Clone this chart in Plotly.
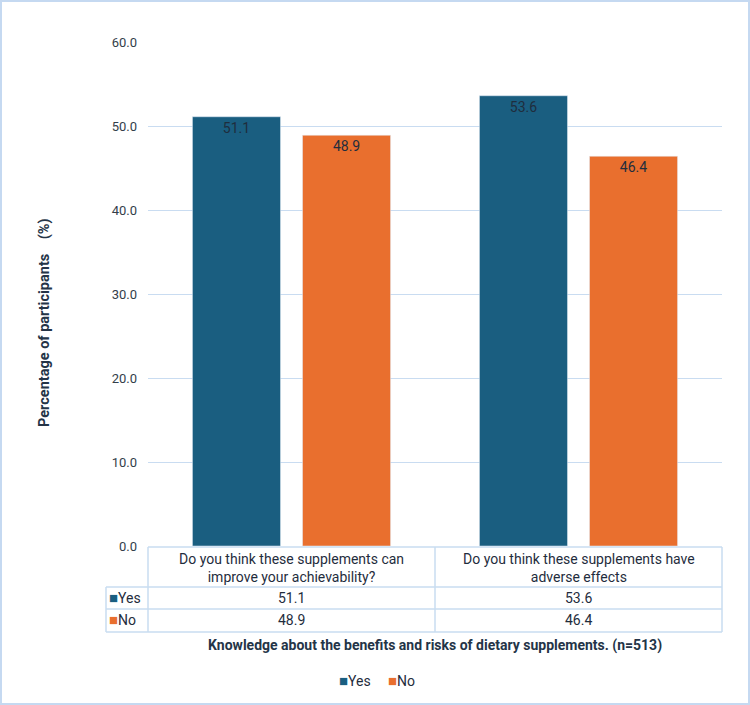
import plotly.graph_objects as go

categories = ["Do you think these supplements can<br>improve your achievability?",
              "Do you think these supplements have<br>adverse effects"]
series_names = ["Yes", "No"]
yes_values = [51.1, 53.6]
no_values = [48.9, 46.4]
y_ticks = [0, 10, 20, 30, 40, 50, 60]
x_title = "Knowledge about the benefits and risks of dietary supplements. (n=513)"
y_title = "Percentage of participants&nbsp;&nbsp;&nbsp;&nbsp;(%)"

BLUE = "#1a5e80"
ORANGE = "#e96f2e"
TEXT = "#1f2d3d"
GRID = "#c9dcf1"
FONT = "Roboto"

W, H = 750, 705
L, R, T, B = 148, 28, 42, 159
PW, PH = W - L - R, H - T - B

def px(x):
    return (x - L) / PW

def py(y):
    return (H - B - y) / PH

xs = [0, 1]
fig = go.Figure()
for name, vals, col in [(series_names[0], yes_values, BLUE), (series_names[1], no_values, ORANGE)]:
    fig.add_trace(go.Bar(x=xs, y=vals, name=name, marker_color=col,
                         text=[f"{v:.1f}" for v in vals], textposition="inside",
                         insidetextanchor="end", textfont=dict(color=TEXT, size=14, family=FONT),
                         showlegend=False))

fig.update_layout(
    width=W, height=H, margin=dict(l=L, r=R, t=T, b=B),
    paper_bgcolor="white", plot_bgcolor="white",
    barmode="group", bargap=0.233, bargroupgap=0.2,
    font=dict(family=FONT, color=TEXT, size=13),
    xaxis=dict(range=[-0.5, 1.5], showticklabels=False, showgrid=False, zeroline=False,
               tickvals=xs),
    yaxis=dict(range=[0, 60], tickvals=y_ticks, tickformat=".1f", gridcolor=GRID,
               zeroline=False, showline=False, ticks="", ticklabelstandoff=10,
               tickfont=dict(size=13, color="#333e4a")),
    showlegend=False,
)

shapes = []
line = dict(color=GRID, width=1.5)
shapes.append(dict(type="line", xref="paper", yref="paper", x0=px(148), x1=px(722), y0=py(547), y1=py(547), line=line))
for yy in [587, 609, 632]:
    shapes.append(dict(type="line", xref="paper", yref="paper", x0=px(106), x1=px(722), y0=py(yy), y1=py(yy), line=line))
shapes.append(dict(type="line", xref="paper", yref="paper", x0=px(106), x1=px(106), y0=py(587), y1=py(632), line=line))
for xx in [148, 435, 722]:
    shapes.append(dict(type="line", xref="paper", yref="paper", x0=px(xx), x1=px(xx), y0=py(547), y1=py(632), line=line))
shapes.append(dict(type="rect", xref="paper", yref="paper", x0=px(1), x1=px(749), y0=py(1), y1=py(704),
                   line=dict(color="#c5d9f1", width=2)))
fig.update_layout(shapes=shapes)

ann = []
def add(x, y, text, xref="paper", xanchor="center", size=14, color=TEXT, **kw):
    ann.append(dict(x=x, y=y, xref=xref, yref="paper", text=text, showarrow=False,
                    xanchor=xanchor, yanchor="middle", font=dict(size=size, color=color, family=FONT), **kw))

for i, c in enumerate(categories):
    add(xs[i], py(568), c, xref="x", align="center")
    add(xs[i], py(598), f"{yes_values[i]:.1f}", xref="x")
    add(xs[i], py(620), f"{no_values[i]:.1f}", xref="x")
for name, col, yy in [(series_names[0], BLUE, 598), (series_names[1], ORANGE, 620)]:
    add(px(107), py(yy), f"<span style='color:{col};font-size:15px'>■</span>{name}", xanchor="left")
add(px(435), py(645), f"<b>{x_title}</b>", size=14, color="#243447")
add(px(44), py(323), f"<b>{y_title}</b>", size=14.5, color="#243447", textangle=-90)
# legend
add(px(377), py(681), f"<span style='color:{BLUE};font-size:15px'>■</span>{series_names[0]}&nbsp;&nbsp;&nbsp;&nbsp;&nbsp;"
    f"<span style='color:{ORANGE};font-size:15px'>■</span>{series_names[1]}", size=14)
fig.update_layout(annotations=ann)

fig.write_html("out.html")
